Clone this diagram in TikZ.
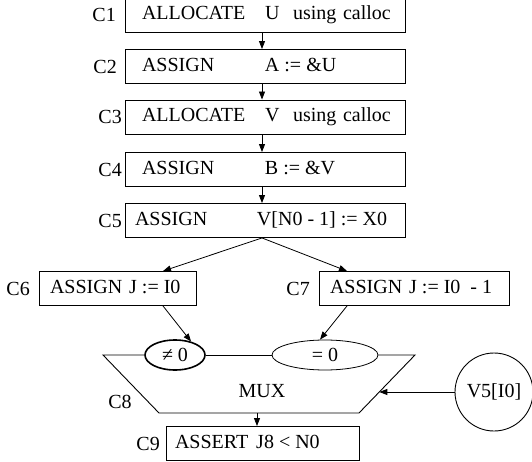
\documentclass[tikz,border=0pt]{standalone}
\usepackage{fontspec}
\setmainfont{Liberation Serif}
\usetikzlibrary{arrows.meta,shapes.geometric,calc}
\newcommand\tpos[2]{\rlap{\hspace*{#1pt}#2}}
\begin{document}
\begin{tikzpicture}[x=1pt,y=-1pt, font=\fontsize{20}{24}\selectfont,
  box/.style={draw, line width=0.9pt, inner sep=0pt, minimum height=34pt, text height=14pt, text depth=4pt},
  lbl/.style={inner sep=0pt, anchor=east},
  arr/.style={line width=0.8pt, -{Triangle[length=8pt,width=6pt]}},
  ln/.style={line width=0.9pt}]
\useasboundingbox (0,0) rectangle (532,462);
% boxes
\node[box, minimum width=280pt] (C1) at (265,15) {\makebox[280pt][l]{\tpos{17}{ALLOCATE}\tpos{140}{U}\tpos{168}{using}\tpos{218}{calloc}}};
\node[box, minimum width=280pt] (C2) at (265,66.5) {\makebox[280pt][l]{\tpos{17}{ASSIGN}\tpos{140}{A := \&U}}};
\node[box, minimum width=280pt] (C3) at (265,117) {\makebox[280pt][l]{\tpos{17}{ALLOCATE}\tpos{140}{V}\tpos{168}{using}\tpos{218}{calloc}}};
\node[box, minimum width=280pt] (C4) at (265,169.5) {\makebox[280pt][l]{\tpos{17}{ASSIGN}\tpos{140}{B := \&V}}};
\node[box, minimum width=280pt] (C5) at (265,220.5) {\makebox[280pt][l]{\tpos{10}{ASSIGN}\tpos{132}{V[N0 - 1] := X0}}};
\node[box, minimum width=157pt] (C6) at (117.5,288.5) {\makebox[157pt][l]{\tpos{11}{ASSIGN\hspace{7pt}J := I0}}};
\node[box, minimum width=190pt] (C7) at (414,288.5) {\makebox[190pt][l]{\tpos{11}{ASSIGN\hspace{7pt}J := I0\hspace{10pt}- 1}}};
\node[box, minimum width=193pt] (C9) at (262.5,443.5) {\makebox[193pt][l]{\tpos{9}{ASSERT\hspace{8pt}J8 < N0}}};
% labels
\node[lbl] (L1) at (116,15) {C1};
\node[lbl] (L2) at (117,66.5) {C2};
\node[lbl] (L3) at (122,117) {C3};
\node[lbl] (L4) at (122,169.5) {C4};
\node[lbl] (L5) at (122,220.5) {C5};
\node[lbl] (L6) at (30,288.5) {C6};
\node[lbl] (L7) at (310,288.5) {C7};
\node[lbl] (L9) at (160,443.5) {C9};
\node (L8) at (120,402) {C8};
% mux
\node[ellipse, draw, line width=1.6pt, minimum width=60pt, minimum height=30pt, inner sep=0pt] (E1) at (175,355) {≠ 0};
\node[ellipse, draw, line width=0.8pt, minimum width=106pt, minimum height=30pt, inner sep=0pt] (E2) at (325,355) {= 0};
\coordinate (TL) at (103,355);
\coordinate (TR) at (415,355);
\coordinate (BR) at (359,413);
\coordinate (BL) at (159,413);
\draw[ln] (E1.west) -- (TL) -- (BL) -- (BR) -- (TR) -- (E2.east);
\draw[ln] (E1.east) -- (E2.west);
\node (MUX) at (262,391) {MUX};
\node[circle, draw, ln, minimum size=78pt, inner sep=0pt] (V5) at (494,392) {V5[I0]};
\coordinate (Min) at ($(TR)!0.637!(BR)$);
\coordinate (Mout) at (257,413);
% connectors
\draw[arr] ([xshift=-3pt]C1.south) -- ([xshift=-3pt]C2.north);
\draw[arr] ([xshift=-3pt]C2.south) -- ([xshift=-3pt]C3.north);
\draw[arr] ([xshift=-3pt]C3.south) -- ([xshift=-3pt]C4.north);
\draw[arr] ([xshift=-3pt]C4.south) -- ([xshift=-3pt]C5.north);
\draw[arr] ([xshift=-3pt]C5.south) -- ([xshift=45.5pt]C6.north);
\draw[arr] ([xshift=-3pt]C5.south) -- ([xshift=-67pt]C7.north);
\draw[arr] ([xshift=45.5pt]C6.south) -- (E1.40);
\draw[arr] ([xshift=-67pt]C7.south) -- ([xshift=-5pt]E2.north);
\draw[arr] (V5.west) -- (V5.west -| Min);
\draw[arr] (Mout) -- (Mout |- C9.north);
\end{tikzpicture}
\end{document}
